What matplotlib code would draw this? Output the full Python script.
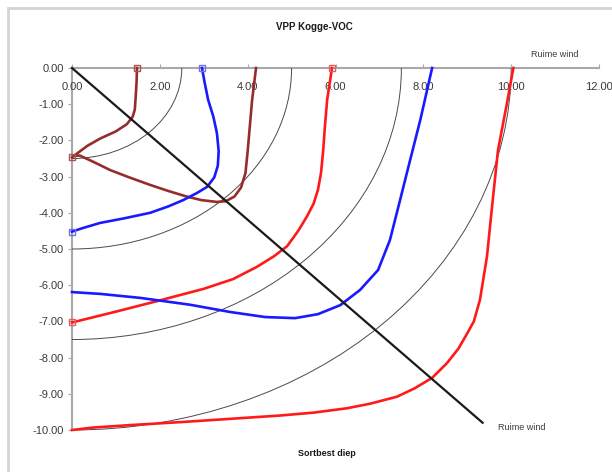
import matplotlib
matplotlib.use("Agg")
import matplotlib.pyplot as plt
from matplotlib.patches import Arc, Rectangle
from matplotlib.ticker import FormatStrFormatter

plt.rcParams['font.family'] = ['Liberation Sans', 'DejaVu Sans']

# Speed circles (knots)
circle_radii = [2.5, 5.0, 7.5, 10.0]

# Polar curves: x = speed along "ruime wind", y = speed downwind (negative)
brown_a_x = [1.48, 1.47, 1.45, 1.43, 1.38, 1.25, 1.00, 0.64, 0.35, 0.15, 0.00]
brown_a_y = [0.00, -0.40, -0.80, -1.15, -1.35, -1.55, -1.75, -1.95, -2.15, -2.33, -2.47]

brown_b_x = [0.05, 0.18, 0.50, 0.87, 1.30, 1.78, 2.20, 2.61, 2.95, 3.30, 3.50, 3.70,
             3.85, 3.95, 4.00, 4.05, 4.10, 4.15, 4.19]
brown_b_y = [-2.42, -2.42, -2.60, -2.82, -3.02, -3.23, -3.40, -3.55, -3.65, -3.70, -3.68,
             -3.55, -3.30, -2.90, -2.30, -1.60, -0.90, -0.40, 0.00]

blue_a_x = [2.96, 3.02, 3.10, 3.22, 3.30, 3.34, 3.32, 3.24, 3.08, 2.85, 2.53, 2.20,
            1.78, 1.20, 0.64, 0.25, 0.00]
blue_a_y = [0.00, -0.40, -0.88, -1.35, -1.80, -2.30, -2.70, -3.02, -3.28, -3.45, -3.65,
            -3.82, -4.00, -4.15, -4.28, -4.42, -4.52]

red_a_x = [5.92, 5.87, 5.81, 5.76, 5.72, 5.67, 5.60, 5.50, 5.35, 5.15, 4.90, 4.60,
           4.20, 3.67, 3.00, 2.00, 1.00, 0.00]
red_a_y = [0.00, -0.40, -0.88, -1.60, -2.27, -2.90, -3.37, -3.75, -4.10, -4.50, -4.92,
           -5.20, -5.50, -5.83, -6.10, -6.42, -6.73, -7.03]

blue_b_x = [8.20, 7.93, 7.70, 7.47, 7.24, 6.97, 6.56, 6.11, 5.60, 5.08, 4.40, 3.60,
            2.69, 1.55, 0.64, 0.00]
blue_b_y = [0.00, -1.44, -2.54, -3.65, -4.75, -5.58, -6.13, -6.55, -6.80, -6.91, -6.88,
            -6.74, -6.54, -6.35, -6.24, -6.19]

red_b_x = [10.05, 9.90, 9.70, 9.55, 9.45, 9.29, 9.15, 9.00, 8.80, 8.54, 8.20, 7.80,
           7.40, 6.80, 6.26, 5.50, 4.74, 3.50, 2.50, 1.39, 0.50, 0.00]
red_b_y = [0.00, -1.00, -2.27, -4.00, -5.20, -6.40, -7.00, -7.33, -7.75, -8.15, -8.56,
           -8.85, -9.08, -9.27, -9.40, -9.52, -9.60, -9.70, -9.78, -9.86, -9.93, -10.00]

# True wind direction line
wind_x = [0.0, 9.35]
wind_y = [0.0, -9.80]

# End points marked with squares
marker_points = [
    ([1.48, 0.00], [0.00, -2.47], '#b05050'),
    ([2.96, 0.00], [0.00, -4.52], '#7070e0'),
    ([5.92, 0.00], [0.00, -7.03], '#e06060'),
]

x_ticks = [0, 2, 4, 6, 8, 10, 12]
y_ticks = [0, -1, -2, -3, -4, -5, -6, -7, -8, -9, -10]

BROWN = '#962d2d'
BLUE = '#1a1aff'
RED = '#ff1a1a'
AXIS_GREY = '#a8a8a8'

fig = plt.figure(figsize=(6.12, 4.72), dpi=100)

# light chart-area frame
fig.patches.append(Rectangle((8 / 612, -0.1), 1.2, 1 - 8 / 472 + 0.1,
                             transform=fig.transFigure, fill=False,
                             edgecolor='#d4d4d4', linewidth=2.0))

ax = fig.add_axes([72 / 612, 1 - 430 / 472, 527 / 612, 362 / 472])
ax.set_xlim(0, 12)
ax.set_ylim(-10, 0)

for r in circle_radii:
    ax.add_patch(Arc((0, 0), 2 * r, 2 * r, theta1=270, theta2=360,
                     color='#4a4a4a', linewidth=0.7, zorder=2, clip_on=False))

lw = 1.9
ax.plot(brown_a_x, brown_a_y, color=BROWN, lw=lw, zorder=3, clip_on=False)
ax.plot(brown_b_x, brown_b_y, color=BROWN, lw=lw, zorder=3, clip_on=False)
ax.plot(blue_a_x, blue_a_y, color=BLUE, lw=lw, zorder=3, clip_on=False)
ax.plot(red_a_x, red_a_y, color=RED, lw=lw, zorder=3, clip_on=False)
ax.plot(blue_b_x, blue_b_y, color=BLUE, lw=lw, zorder=3, clip_on=False)
ax.plot(red_b_x, red_b_y, color=RED, lw=lw, zorder=3, clip_on=False)
ax.plot(wind_x, wind_y, color='#1a1a1a', lw=1.6, zorder=4, clip_on=False)

for mx, my, mc in marker_points:
    ax.plot(mx, my, linestyle='none', marker='s', markersize=5, mfc='none',
            mec=mc, mew=1.0, zorder=5, clip_on=False)

# Excel-like axes: x axis along y=0 with labels under the line
for side in ['bottom', 'right']:
    ax.spines[side].set_visible(False)
for side in ['top', 'left']:
    ax.spines[side].set_color(AXIS_GREY)
    ax.spines[side].set_linewidth(1.5)
    ax.spines[side].set_zorder(1)

ax.set_xticks(x_ticks)
ax.set_yticks(y_ticks)
ax.xaxis.set_major_formatter(FormatStrFormatter('%.2f'))
ax.yaxis.set_major_formatter(FormatStrFormatter('%.2f'))
ax.tick_params(axis='x', top=True, bottom=False, labeltop=True, labelbottom=False,
               direction='out', length=3, color=AXIS_GREY, pad=-20,
               labelsize=8, labelcolor='#3a3a3a')
ax.tick_params(axis='y', direction='out', length=3, color=AXIS_GREY, pad=3,
               labelsize=8, labelcolor='#3a3a3a')

ax.text(11.0, 0.36, 'Ruime wind', fontsize=6.5, color='#3a3a3a',
        ha='center', va='center', clip_on=False)
ax.text(9.7, -9.94, 'Ruime wind', fontsize=6.5, color='#3a3a3a',
        ha='left', va='center', clip_on=False)
ax.text(5.81, -10.64, 'Sortbest diep', fontsize=6.5, fontweight='bold',
        color='#1a1a1a', ha='center', va='center', clip_on=False)

fig.text(314 / 612, 1 - 27 / 472, 'VPP Kogge-VOC', fontsize=7, fontweight='bold',
         color='#1a1a1a', ha='center', va='center')

fig.savefig('out.png', dpi=100)
